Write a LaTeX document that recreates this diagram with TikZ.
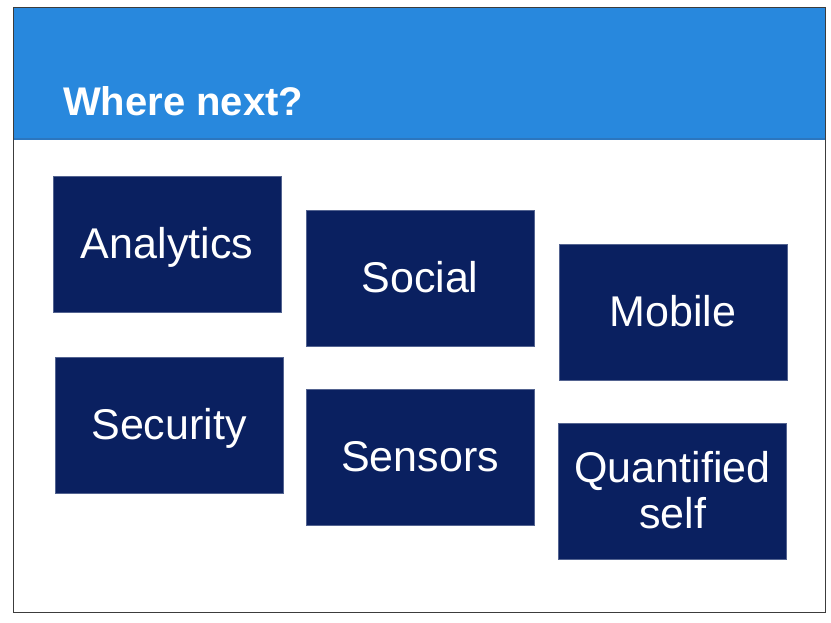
\documentclass[tikz,border=0pt]{standalone}
\usepackage{fontspec}
\setmainfont{Liberation Sans}
\definecolor{headblue}{RGB}{40,136,221}
\definecolor{headline}{RGB}{44,118,190}
\definecolor{navy}{RGB}{10,32,96}
\definecolor{frame}{RGB}{60,60,60}
\begin{document}
\begin{tikzpicture}[x=1pt,y=-1pt,
  box/.style={fill=navy, draw=navy!70!white, line width=0.5pt, minimum width=228pt, minimum height=136pt, inner sep=0pt,
    text=white, font=\fontsize{43}{46}\selectfont, text height=31pt, text depth=3pt},
  qlbl/.style={text=white, font=\fontsize{43}{46}\selectfont, anchor=base, inner sep=0pt}]
\useasboundingbox (0,0) rectangle (831,622);
\fill[white] (0,0) rectangle (831,622);
\fill[headblue] (13,7) rectangle (825,140);
\draw[headline, line width=2pt] (13,139) -- (825,139);
\draw[frame, line width=1pt] (13,7) rectangle (825,612);
\node[anchor=base west, inner sep=0pt, text=white, font=\bfseries\fontsize{40}{44}\selectfont] (title) at (63,115) {Where next?};
\node[box] (analytics) at (167,244) {Analytics};
\node[box] (social) at (420,278) {Social};
\node[box] (mobile) at (673,312) {Mobile};
\node[box] (security) at (169,425) {Security};
\node[box] (sensors) at (420,457.5) {Sensors};
\node[box] (quant) at (672.5,491) {};
\node[qlbl] (q1) at ([yshift=9pt]quant.center) {Quantified};
\node[qlbl] (q2) at ([yshift=-37pt]quant.center) {self};
\end{tikzpicture}
\end{document}
